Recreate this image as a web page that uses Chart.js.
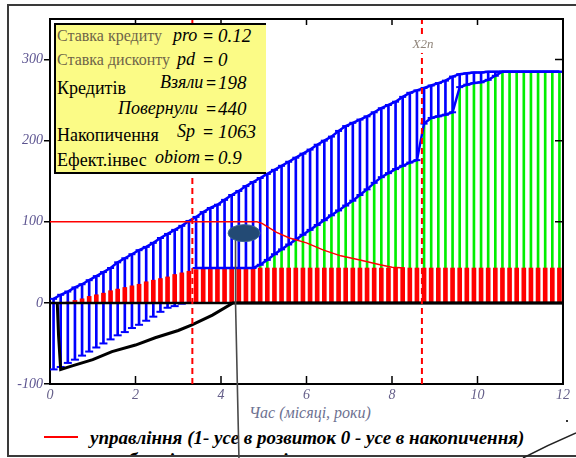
<!DOCTYPE html>
<html>
<head>
<meta charset="utf-8">
<script src="https://cdn.jsdelivr.net/npm/chart.js@4/dist/chart.umd.min.js"></script>
<style>
  html, body { margin: 0; padding: 0; background: #fff; }
  #wrap { position: relative; width: 576px; height: 458px; overflow: hidden; }
  #frame { position: absolute; left: 7px; top: 4px; width: 700px; height: 453px;
           border: 2px solid #3a3a3a; border-right: none; box-sizing: border-box; z-index: 0; }
  #chart { position: absolute; left: 0; top: 0; z-index: 2; }
  .t { position: absolute; white-space: nowrap; line-height: 1;
       font-family: "Liberation Serif", "Times New Roman", Tinos, "Nimbus Roman", FreeSerif, "DejaVu Serif", "Noto Serif", serif; }
  .it { font-style: italic; }
  .under { z-index: 1; }
  .over { z-index: 4; }
  #pbox { position: absolute; left: 54px; top: 23px; width: 212px; height: 151px; background: #fbfb86;
          border-top: 2px solid #000; border-left: 2px solid #000; border-bottom: 2px solid #000;
          box-sizing: border-box; z-index: 3; }
  .lbl { font-size: 16px; color: #6e6448; }
  .lbb { font-size: 18px; color: #000; }
  .var { font-size: 18px; font-style: italic; color: #000; }
  .eq  { font-size: 18px; font-weight: bold; color: #000; }
  .num { font-size: 19px; font-style: italic; color: #000; }
  #clipLegend { position: absolute; left: 0; top: 420px; width: 576px; height: 35px; overflow: hidden; z-index: 1; }
</style>
</head>
<body>
<div id="wrap">
  <div id="frame"></div>
  <canvas id="chart" width="576" height="458"></canvas>

  <!-- parameter panel -->
  <div id="pbox"></div>
  <span class="t over lbl" style="left:57px;top:28px;">Ставка кредиту</span>
  <span class="t over var" style="left:173px;top:26px;">pro</span>
  <span class="t over eq"  style="left:203px;top:27px;">=</span>
  <span class="t over num" style="left:218px;top:26px;">0.12</span>

  <span class="t over lbl" style="left:57px;top:52px;">Ставка дисконту</span>
  <span class="t over var" style="left:177px;top:50px;">pd</span>
  <span class="t over eq"  style="left:203px;top:51px;">=</span>
  <span class="t over num" style="left:218px;top:50px;">0</span>

  <span class="t over lbb" style="left:57px;top:79px;">Кредитів</span>
  <span class="t over var" style="left:160px;top:73px;">Взяли</span>
  <span class="t over eq"  style="left:206px;top:74px;">=</span>
  <span class="t over num" style="left:218px;top:73px;">198</span>

  <span class="t over var" style="left:118px;top:99px;">Повернули</span>
  <span class="t over eq"  style="left:206px;top:100px;">=</span>
  <span class="t over num" style="left:218px;top:99px;">440</span>

  <span class="t over lbb" style="left:57px;top:126px;">Накопичення</span>
  <span class="t over var" style="left:177px;top:122px;">Sp</span>
  <span class="t over eq"  style="left:203px;top:123px;">=</span>
  <span class="t over num" style="left:218px;top:122px;">1063</span>

  <span class="t over lbb" style="left:57px;top:151px;">Ефект.інвес</span>
  <span class="t over var" style="left:155px;top:148px;">obiom</span>
  <span class="t over eq"  style="left:204px;top:149px;">=</span>
  <span class="t over num" style="left:218px;top:148px;">0.9</span>

  <!-- axis title and legend -->
  <span class="t it under" style="left:249px;top:405px;font-size:16px;color:#6d7191;">Час (місяці, роки)</span>
  <div id="clipLegend">
    <div style="position:absolute;left:44px;top:16px;width:34px;height:2px;background:#ff0000;"></div>
    <span class="t it" style="left:90px;top:8px;font-size:19px;font-weight:bold;color:#000;">управління (1- усе в розвиток 0 - усе в накопичення)</span>
    <span class="t it" style="left:90px;top:30px;font-size:19px;font-weight:bold;color:#000;">виробничі потужності</span>
  </div>
</div>

<script>
// Time grid: month of each sample (plotted in years)
const months = [1,3,5,7,9,11,13,15,17,19,21,23,25,27,29,31,33,35,37,39,41,43,45,47,
                49,51,53,55,57,59,61,63,65,67,69,71,73,75,77,79,81,83,85,87,89,91,93,95,
                97,99,101,103,105,107,109,111,113,115,117,119,121,123,125,127,129,131,133,135,137,139,141,143];

// Credit band: upper and lower ends of each blue stem
const creditTop = [5,10,14,19,23,28,33,38,43,50,55,60,65,69,74,80,85,90,95,101,106,112,117,121,
                   127,133,138,144,149,154,159,164,169,174,179,184,189,195,200,205,212,218,222,226,230,235,240,244,
                   248,254,259,262,265,268,271,274,279,282,283,284,284,285,285,285,285,285,285,285,285,285,285,285];
const creditBottom = [-82,-79,-74,-70,-65,-60,-55,-50,-45,-40,-36,-31,-27,-22,-17,-11,-6,-4,-1,0,43,43,43,43,
                      43,43,43,43,43,47,53,60,66,72,78,84,90,96,102,108,114,120,126,133,140,148,155,160,
                      165,169,173,176,221,228,230,232,235,266,269,271,272,275,280,285,285,285,285,285,285,285,285,285];

// Production capacity (green stems)
const capacity = [0,0,1,3,5,8,10,12,15,17,19,21,23,26,28,30,32,35,37,39,41,42,43,43,
                  43,43,43,43,43,47,53,60,66,72,78,84,90,96,102,108,114,120,126,133,140,148,155,160,
                  165,169,173,176,221,228,230,232,235,266,269,271,272,275,280,285,285,285,285,285,285,285,285,285];

// Investment into development (red stems)
const invest = [0,0,1,3,5,8,10,12,15,17,19,21,23,26,28,30,32,35,37,39,41,42,43,43,
                43,43,43,43,43,43,43,43,43,43,43,43,43,43,43,43,43,43,43,43,43,43,43,43,
                43,43,43,43,43,43,43,43,43,43,43,43,43,43,43,43,43,43,43,43,43,43,43,43];

// Control (1 = all into development, 0 = all into accumulation), in percent
const controlT = [0, 4.84, 4.96, 5.3, 5.6, 6.0, 6.4, 6.8, 7.25, 7.72, 8.0, 8.3];
const controlV = [100, 100, 98, 87, 80, 74, 65, 58, 53, 47, 44, 43];

// Debt balance (black line)
const debtT = [0.17, 0.2, 0.25, 0.5, 1.0, 1.45, 2.0, 2.46, 3.0, 3.32, 3.8, 4.28, 12];
const debtV = [0, -40, -82, -78, -70, -60, -52, -43, -34, -27, -15, 0, 0];

// Switching moments (dashed markers)
const switch1 = 3.33;
const switch2 = 8.7;
const switch2Label = 'X2n';

// Axis ticks
const xTicks = [0, 2, 4, 6, 8, 10, 12];
const yTicks = [-100, 0, 100, 200, 300];
const yMin = -100, yMax = 350;

const SERIF = '"Liberation Serif", "Times New Roman", Tinos, "Nimbus Roman", FreeSerif, "DejaVu Serif", "Noto Serif", serif';
const BLUE = '#0000ff', GREEN = '#00ee00', RED = '#ff0000';
const yrs = months.map(m => m / 12);

const stemData = (lo, hi) => yrs.map((t, i) => ({ x: t, y: [lo === 0 ? 0 : lo[i], hi[i]] }));
const pts = (ts, vs) => ts.map((t, i) => ({ x: t, y: vs[i] }));

const nLowA = 20; // stems whose lower end is below the red band
const lowerA = yrs.slice(0, nLowA).map((t, i) => ({ x: t, y: creditBottom[i] }));
const lowerB = yrs.slice(nLowA).map((t, i) => ({ x: t, y: creditBottom[i + nLowA] }));

const lineBase = { type: 'line', fill: false, tension: 0 };

const decor = {
  id: 'decor',
  afterDraw(chart) {
    const { ctx, chartArea: a, scales: { x, y } } = chart;
    ctx.save();
    // plot box, top and right sides
    ctx.strokeStyle = '#000';
    ctx.lineWidth = 2;
    ctx.beginPath();
    ctx.moveTo(a.left, a.top); ctx.lineTo(a.right, a.top); ctx.lineTo(a.right, a.bottom);
    ctx.stroke();
    // inward tick marks
    ctx.lineWidth = 1.5;
    ctx.beginPath();
    xTicks.forEach(v => {
      const px = x.getPixelForValue(v);
      ctx.moveTo(px, a.bottom); ctx.lineTo(px, a.bottom - 8);
      ctx.moveTo(px, a.top); ctx.lineTo(px, a.top + 6);
    });
    yTicks.forEach(v => {
      const py = y.getPixelForValue(v);
      ctx.moveTo(a.right, py); ctx.lineTo(a.right - 8, py);
    });
    ctx.stroke();

    // switch label
    const lx = x.getPixelForValue(switch2), ly = y.getPixelForValue(318);
    ctx.font = 'italic 13px ' + SERIF;
    ctx.textAlign = 'center'; ctx.textBaseline = 'middle';
    const w = ctx.measureText(switch2Label).width;
    ctx.fillStyle = '#fff';
    ctx.fillRect(lx - w / 2 - 1, ly - 8, w + 2, 16);
    ctx.fillStyle = '#8f8479';
    ctx.fillText(switch2Label, lx + 1, ly);

    // callout marker
    const ex = x.getPixelForValue(4.54), ey = y.getPixelForValue(86);
    ctx.strokeStyle = '#4a4a4a';
    ctx.lineWidth = 1.6;
    ctx.beginPath();
    ctx.moveTo(x.getPixelForValue(4.34), y.getPixelForValue(78));
    ctx.lineTo(x.getPixelForValue(4.34), y.getPixelForValue(0));
    ctx.lineTo(x.getPixelForValue(4.42), chart.height);
    ctx.stroke();
    ctx.beginPath();
    ctx.ellipse(ex, ey, 16, 8.5, 0, 0, Math.PI * 2);
    ctx.fillStyle = '#234a74';
    ctx.fill();
    ctx.strokeStyle = '#3d6695';
    ctx.lineWidth = 1;
    ctx.stroke();

    // connector leaving the page corner
    ctx.strokeStyle = '#222';
    ctx.lineWidth = 1.5;
    ctx.beginPath();
    ctx.moveTo(chart.width, 433);
    ctx.quadraticCurveTo(548, 445, 523, chart.height);
    ctx.stroke();
    ctx.fillStyle = '#333';
    ctx.fillRect(566, 420, 2, 2);
    ctx.restore();
  }
};

new Chart(document.getElementById('chart'), {
  type: 'bar',
  data: {
    datasets: [
      { ...lineBase, label: 'управління', data: pts(controlT, controlV), borderColor: RED, borderWidth: 1.5, pointRadius: 0, order: 0 },
      { ...lineBase, label: 'switch1', data: [{ x: switch1, y: yMin }, { x: switch1, y: yMax }], borderColor: RED, borderWidth: 2, borderDash: [6, 4], pointRadius: 0, order: 1 },
      { ...lineBase, label: 'switch2', data: [{ x: switch2, y: yMin }, { x: switch2, y: yMax }], borderColor: RED, borderWidth: 2, borderDash: [6, 4], pointRadius: 0, order: 1 },
      { ...lineBase, label: 'zero', data: [{ x: 0, y: 0 }, { x: 12, y: 0 }], borderColor: '#000', borderWidth: 2.5, pointRadius: 0, order: 2 },
      { ...lineBase, label: 'борг', data: pts(debtT, debtV), borderColor: '#000', borderWidth: 3, pointRadius: 0, order: 3 },
      { ...lineBase, label: 'кредит верх', data: pts(yrs, creditTop), borderColor: BLUE, borderWidth: 2.5,
        pointStyle: 'line', pointRadius: 3.5, pointBorderWidth: 2, pointBorderColor: BLUE, order: 4 },
      { ...lineBase, label: 'кредит низ', data: lowerA, showLine: false,
        pointStyle: 'line', pointRadius: 4, pointBorderWidth: 2, pointBorderColor: BLUE, order: 5 },
      { ...lineBase, label: 'кредит низ 2', data: lowerB, borderColor: BLUE, borderWidth: 2.5,
        pointStyle: 'line', pointRadius: 3.5, pointBorderWidth: 2, pointBorderColor: BLUE, order: 6 },
      { label: 'розвиток', data: stemData(0, invest), backgroundColor: RED, barThickness: 4, grouped: false, order: 7 },
      { label: 'кредити', data: stemData(creditBottom, creditTop), backgroundColor: BLUE, barThickness: 2, grouped: false, order: 8 },
      { label: 'потужності', data: stemData(0, capacity), backgroundColor: GREEN, barThickness: 2, grouped: false, order: 9 }
    ]
  },
  options: {
    responsive: false,
    animation: false,
    devicePixelRatio: 1,
    layout: { padding: { left: 0, right: 13, top: 19, bottom: 0 } },
    plugins: { legend: { display: false }, tooltip: { enabled: false } },
    scales: {
      x: {
        type: 'linear', min: 0, max: 12, offset: false,
        afterBuildTicks: s => { s.ticks = xTicks.map(v => ({ value: v })); },
        afterFit: s => { s.height = 74; },
        ticks: { font: { family: SERIF, style: 'italic', size: 14 }, color: '#66608a', padding: 3, maxRotation: 0, autoSkip: false },
        grid: { display: false, drawTicks: false },
        border: { display: true, color: '#000', width: 2 }
      },
      y: {
        type: 'linear', min: yMin, max: yMax,
        afterBuildTicks: s => { s.ticks = yTicks.map(v => ({ value: v })); },
        afterFit: s => { s.width = 50; },
        ticks: { font: { family: SERIF, style: 'italic', size: 14 }, color: '#5c5490', padding: 1 },
        grid: { display: true, drawOnChartArea: false, drawTicks: true, tickLength: 6, color: '#000', lineWidth: 1.5 },
        border: { display: true, color: '#000', width: 2 }
      }
    }
  },
  plugins: [decor]
});
</script>
</body>
</html>
